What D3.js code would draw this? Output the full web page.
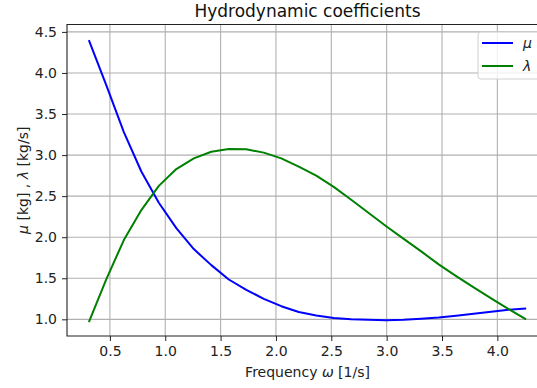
<!DOCTYPE html>
<html>
<head>
<meta charset="utf-8">
<script src="https://cdn.jsdelivr.net/npm/d3@7"></script>
<style>
  body { margin: 0; background: #fff; }
  svg { display: block; font-family: "DejaVu Sans", sans-serif; }
</style>
</head>
<body>
<div id="chart"></div>
<script>
// frequency samples (1/s)
const omega = [0.31, 0.468, 0.626, 0.784, 0.942, 1.10, 1.258, 1.416, 1.574, 1.732,
    1.89, 2.048, 2.206, 2.364, 2.522, 2.68, 2.838, 2.996, 3.154, 3.312,
    3.47, 3.628, 3.786, 3.944, 4.102, 4.26]

// added mass mu [kg]
const mu = [4.40, 3.85, 3.28, 2.80, 2.42, 2.11, 1.855, 1.66, 1.485, 1.36,
    1.25, 1.16, 1.09, 1.046, 1.016, 1.001, 0.995, 0.99, 0.995, 1.007,
    1.023, 1.045, 1.068, 1.093, 1.118, 1.133]

// damping lambda [kg/s]
const lambda = [0.965, 1.49, 1.965, 2.33, 2.625, 2.83, 2.96, 3.04, 3.075, 3.07,
    3.03, 2.96, 2.86, 2.75, 2.613, 2.456, 2.294, 2.134, 1.98, 1.827,
    1.669, 1.527, 1.39, 1.256, 1.125, 1.0]

const xTicks = [0.5, 1.0, 1.5, 2.0, 2.5, 3.0, 3.5, 4.0]
const yTicks = [1.0, 1.5, 2.0, 2.5, 3.0, 3.5, 4.0, 4.5]

const seriesNames = ["\u03bc", "\u03bb"]
const seriesColors = ["#0000ff", "#008000"]

const width = 537, height = 388
const plot = {left: 67, top: 24.5, right: 548, bottom: 336}

const svg = d3.select("#chart").append("svg")
    .attr("width", width)
    .attr("height", height)

const x = d3.scaleLinear()
    .domain([0.1125, 4.4575])
    .range([plot.left, plot.right])

const y = d3.scaleLinear()
    .domain([0.797, 4.59])
    .range([plot.bottom, plot.top])

// grid
svg.append("g")
    .selectAll("line")
    .data(xTicks)
    .join("line")
    .attr("x1", d => x(d)).attr("x2", d => x(d))
    .attr("y1", plot.top).attr("y2", plot.bottom)
    .attr("stroke", "#b0b0b0")
    .attr("stroke-width", 1.1)

svg.append("g")
    .selectAll("line")
    .data(yTicks)
    .join("line")
    .attr("x1", plot.left).attr("x2", plot.right)
    .attr("y1", d => y(d)).attr("y2", d => y(d))
    .attr("stroke", "#b0b0b0")
    .attr("stroke-width", 1.1)

// axes
const xAxis = svg.append("g")
    .attr("transform", `translate(0,${plot.bottom})`)
    .call(d3.axisBottom(x).tickValues(xTicks).tickFormat(d3.format(".1f")).tickSizeOuter(0).tickSize(5).tickPadding(5))
xAxis.select(".domain").remove()
xAxis.selectAll("text").attr("font-size", "14px").attr("fill", "#222").attr("font-family", "DejaVu Sans")
xAxis.selectAll("line").attr("stroke", "#222")

const yAxis = svg.append("g")
    .attr("transform", `translate(${plot.left},0)`)
    .call(d3.axisLeft(y).tickValues(yTicks).tickFormat(d3.format(".1f")).tickSizeOuter(0).tickSize(5).tickPadding(5))
yAxis.select(".domain").remove()
yAxis.selectAll("text").attr("font-size", "14px").attr("fill", "#222").attr("font-family", "DejaVu Sans")
yAxis.selectAll("line").attr("stroke", "#222")

// spines (right one falls outside the window)
svg.append("path")
    .attr("d", `M${plot.right},${plot.top}H${plot.left}V${plot.bottom}H${plot.right}`)
    .attr("fill", "none")
    .attr("stroke", "#222")
    .attr("stroke-width", 1.1)

// curves
const line = d3.line()
    .x((d, i) => x(omega[i]))
    .y(d => y(d))

const series = [mu, lambda]
series.forEach((s, k) => {
    svg.append("path")
        .datum(s)
        .attr("d", line)
        .attr("fill", "none")
        .attr("stroke", seriesColors[k])
        .attr("stroke-width", 2)
        .attr("stroke-linejoin", "round")
})

// title and labels
svg.append("text")
    .attr("x", (plot.left + plot.right) / 2)
    .attr("y", 17)
    .attr("text-anchor", "middle")
    .attr("font-size", "17px")
    .attr("fill", "#111")
    .text("Hydrodynamic coefficients")

const xl = svg.append("text")
    .attr("x", (plot.left + plot.right) / 2)
    .attr("y", 377)
    .attr("text-anchor", "middle")
    .attr("font-size", "14px")
    .attr("fill", "#222")
xl.append("tspan").text("Frequency ")
xl.append("tspan").attr("font-style", "italic").text("\u03c9")
xl.append("tspan").text(" [1/s]")

const yl = svg.append("text")
    .attr("transform", `translate(28,${(plot.top + plot.bottom) / 2}) rotate(-90)`)
    .attr("text-anchor", "middle")
    .attr("font-size", "14px")
    .attr("fill", "#222")
yl.append("tspan").attr("font-style", "italic").text("\u03bc")
yl.append("tspan").text(" [kg] , ")
yl.append("tspan").attr("font-style", "italic").text("\u03bb")
yl.append("tspan").text(" [kg/s]")

// legend
const legend = svg.append("g")
legend.append("rect")
    .attr("x", 478).attr("y", 32)
    .attr("width", 80).attr("height", 47)
    .attr("rx", 3)
    .attr("fill", "#fff")
    .attr("fill-opacity", 0.8)
    .attr("stroke", "#d0d0d0")

seriesNames.forEach((name, k) => {
    const ly = 43 + k * 23
    legend.append("line")
        .attr("x1", 482).attr("x2", 513)
        .attr("y1", ly).attr("y2", ly)
        .attr("stroke", seriesColors[k])
        .attr("stroke-width", 2)
    legend.append("text")
        .attr("x", 523).attr("y", ly + 5)
        .attr("font-size", "14px")
        .attr("font-style", "italic")
        .attr("fill", "#222")
        .text(name)
})
</script>
</body>
</html>
